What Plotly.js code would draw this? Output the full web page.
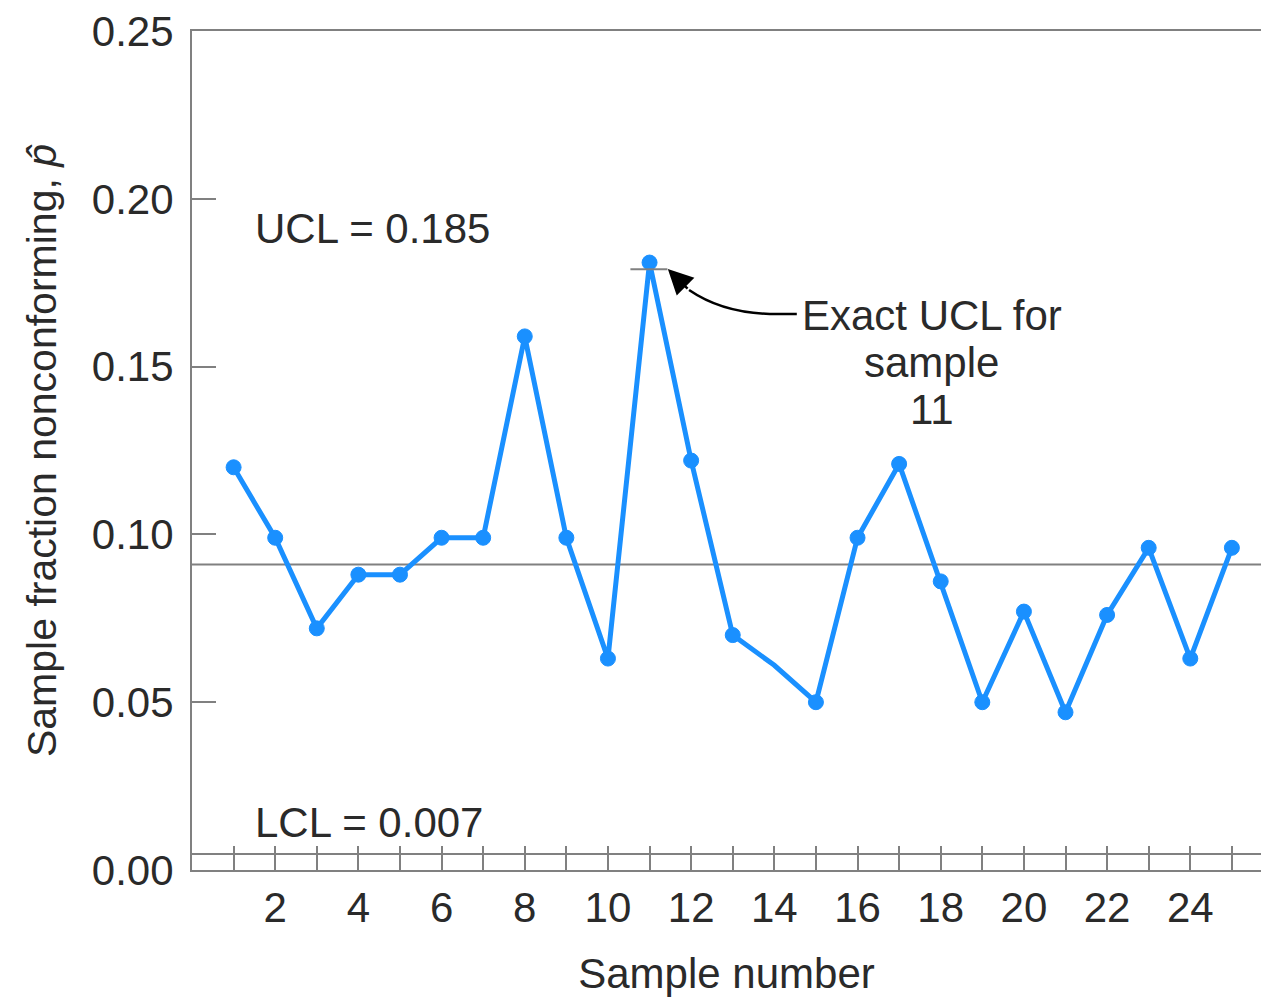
<!DOCTYPE html>
<html>
<head>
<meta charset="utf-8">
<script src="https://cdn.plot.ly/plotly-3.0.1.min.js"></script>
<style>html,body{margin:0;padding:0;background:#fff;}#chart{width:1261px;height:998px;}</style>
</head>
<body>
<div id="chart"></div>
<script>
// Data
const sampleNumbers = [1,2,3,4,5,6,7,8,9,10,11,12,13,14,15,16,17,18,19,20,21,22,23,24,25];
const fractionNonconforming = [0.120,0.099,0.072,0.088,0.088,0.099,0.099,0.159,0.099,0.063,0.181,0.122,0.070,0.061,0.050,0.099,0.121,0.086,0.050,0.077,0.047,0.076,0.096,0.063,0.096];
const centerLine = 0.091;
const lclLine = 0.0048;
const exactUclSample11 = 0.179;
const xTickVals = sampleNumbers;
const xTickText = sampleNumbers.map(n => (n % 2 === 0 ? String(n) : ''));
const yTickVals = [0, 0.05, 0.10, 0.15, 0.20, 0.25];
const yTickText = ['0.00', '0.05', '0.10', '0.15', '0.20', '0.25'];

const FONT = 'Liberation Sans, Arial, sans-serif';
const GRAY = '#808080';
const BLUE = '#1a90ff';
const TXT = '#2a2a2a';

const markerSizes = sampleNumbers.map(n => (n === 14 ? 0 : 15));

const trace = {
  x: sampleNumbers,
  y: fractionNonconforming,
  type: 'scatter',
  mode: 'lines+markers',
  line: {color: BLUE, width: 5},
  marker: {color: BLUE, size: markerSizes, opacity: 1, line: {width: 1, color: BLUE}},
  hoverinfo: 'x+y',
  cliponaxis: false
};

const layout = {
  width: 1261,
  height: 998,
  margin: {l: 192, r: 0, t: 31, b: 128},
  paper_bgcolor: '#fff',
  plot_bgcolor: '#fff',
  showlegend: false,
  font: {family: FONT, size: 42, color: TXT},
  xaxis: {
    range: [0, 25.7],
    tickmode: 'array',
    tickvals: xTickVals,
    ticktext: xTickText,
    ticks: 'inside',
    ticklen: 24,
    tickwidth: 2,
    tickcolor: GRAY,
    showline: true,
    linecolor: GRAY,
    linewidth: 2,
    mirror: true,
    showgrid: false,
    zeroline: false,
    tickfont: {family: FONT, size: 42, color: TXT},
    ticklabelstandoff: 0,
    title: {text: 'Sample number', font: {family: FONT, size: 42, color: TXT}, standoff: 28}
  },
  yaxis: {
    range: [0, 0.25],
    tickmode: 'array',
    tickvals: yTickVals,
    ticktext: yTickText,
    ticks: 'inside',
    ticklen: 24,
    tickwidth: 2,
    tickcolor: GRAY,
    showline: true,
    linecolor: GRAY,
    linewidth: 2,
    mirror: false,
    showgrid: false,
    zeroline: false,
    tickfont: {family: FONT, size: 42, color: TXT},
    ticklabelstandoff: 8,
    title: {text: 'Sample fraction nonconforming, <i>p̂</i>', font: {family: FONT, size: 41, color: TXT}, standoff: 22}
  },
  shapes: [
    {type: 'line', xref: 'paper', yref: 'y', x0: 0, x1: 1, y0: centerLine, y1: centerLine, line: {color: GRAY, width: 2}, layer: 'below'},
    {type: 'line', xref: 'paper', yref: 'y', x0: 0, x1: 1, y0: lclLine, y1: lclLine, line: {color: GRAY, width: 2}, layer: 'below'},
    {type: 'line', xref: 'x', yref: 'y', x0: 10.54, x1: 11.43, y0: exactUclSample11, y1: exactUclSample11, line: {color: GRAY, width: 2}},
    {type: 'path', xref: 'x', yref: 'y', path: 'M 14.54,0.1657 L 13.89,0.1657 Q 12.75,0.1660 11.95,0.1728', line: {color: '#000', width: 2.5}}
  ],
  annotations: [
    {xref: 'x', yref: 'y', x: 1.47, y: 0.1913, xanchor: 'left', yanchor: 'middle', text: 'UCL = 0.185', showarrow: false, font: {family: FONT, size: 42, color: TXT}},
    {xref: 'x', yref: 'y', x: 1.47, y: 0.0143, xanchor: 'left', yanchor: 'middle', text: 'LCL = 0.007', showarrow: false, font: {family: FONT, size: 42, color: TXT}},
    {xref: 'x', yref: 'y', x: 17.79, y: 0.1651, xanchor: 'center', yanchor: 'middle', text: 'Exact UCL for', showarrow: false, font: {family: FONT, size: 42, color: TXT}},
    {xref: 'x', yref: 'y', x: 17.79, y: 0.1511, xanchor: 'center', yanchor: 'middle', text: 'sample', showarrow: false, font: {family: FONT, size: 42, color: TXT}},
    {xref: 'x', yref: 'y', x: 17.79, y: 0.1371, xanchor: 'center', yanchor: 'middle', text: '11', showarrow: false, font: {family: FONT, size: 42, color: TXT}},
    {xref: 'x', yref: 'y', x: 11.44, y: 0.1791, axref: 'x', ayref: 'y', ax: 11.95, ay: 0.1728, text: '', showarrow: true, arrowhead: 2, arrowsize: 2, arrowwidth: 2.5, arrowcolor: '#000'}
  ]
};

Plotly.newPlot('chart', [trace], layout, {displayModeBar: false, staticPlot: true});
</script>
</body>
</html>
